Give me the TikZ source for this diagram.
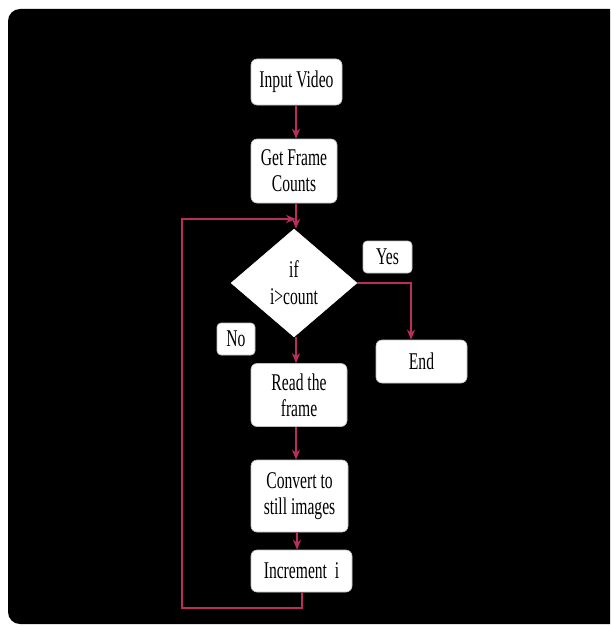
\documentclass[tikz,border=0pt]{standalone}
\usepackage{fontspec}
\newfontfamily\tnr[FakeStretch=0.65]{Liberation Serif}
\usetikzlibrary{shapes.geometric,arrows.meta}
\definecolor{arrcol}{RGB}{185,45,95}
\tikzset{
  box/.style={draw=gray!50, line width=0.6pt, fill=white, rounded corners=6pt, align=center,
    font=\tnr\fontsize{24}{26}\selectfont, inner sep=0pt, text=black},
  lbl/.style={box, rounded corners=4pt},
  dec/.style={diamond, draw=white, fill=white, align=center, inner sep=0pt,
    font=\tnr\fontsize{24}{27}\selectfont, text=black},
  arrow/.style={draw=arrcol, line width=2pt, -{Stealth[length=10pt,width=8pt,inset=3pt]}},
}
\begin{document}
\begin{tikzpicture}[x=1pt,y=-1pt]
\useasboundingbox (0,0) rectangle (610,626);
\fill[black] (610,9) -- (20,9) arc[start angle=270,end angle=180,radius=12] -- (8,612)
  arc[start angle=180,end angle=90,radius=12] -- (610,624) -- cycle;
% nodes
\node[box, minimum width=91pt, minimum height=46pt] (in) at (296.5,82) {Input Video};
\node[box, minimum width=86pt, minimum height=64pt] (gf) at (294,171) {Get Frame\\Counts};
\node[dec, minimum width=126pt, minimum height=108pt] (d) at (294,283) {if\\i>count};
\node[box, minimum width=96pt, minimum height=63pt] (rd) at (299,395) {Read the\\frame};
\node[box, minimum width=97pt, minimum height=72pt] (cv) at (299.5,496) {Convert to\\still images};
\node[box, minimum width=101pt, minimum height=42pt] (inc) at (301.5,571) {Increment\ \ i};
\node[box, minimum width=91pt, minimum height=43pt] (end) at (421.5,361.5) {End};
\node[lbl, minimum width=49pt, minimum height=32pt] (yes) at (387.5,257) {Yes};
\node[lbl, minimum width=38pt, minimum height=32pt] (no) at (236,339) {No};
% helper coordinates
\coordinate (ax) at (296,0);
\coordinate (bx) at (297,0);
\coordinate (ex) at (411,0);
\coordinate (c1) at (302,608);
\coordinate (c2) at (182,608);
\coordinate (c3) at (182,219);
\coordinate (c4) at (296,219);
% connectors
\draw[arrow] (in.south -| ax) -- (gf.north -| ax);
\draw[arrow] (gf.south -| ax) -- (d.north -| ax);
\draw[arrow] (d.south -| ax) -- (rd.north -| ax);
\draw[arrow] (rd.south -| ax) -- (cv.north -| ax);
\draw[arrow] (cv.south -| bx) -- (inc.north -| bx);
\draw[arrow] (inc.south -| c1) -- (c1) -- (c2) -- (c3) -- (c4);
\draw[arrow] (d.east) -| (end.north -| ex);
\end{tikzpicture}
\end{document}
